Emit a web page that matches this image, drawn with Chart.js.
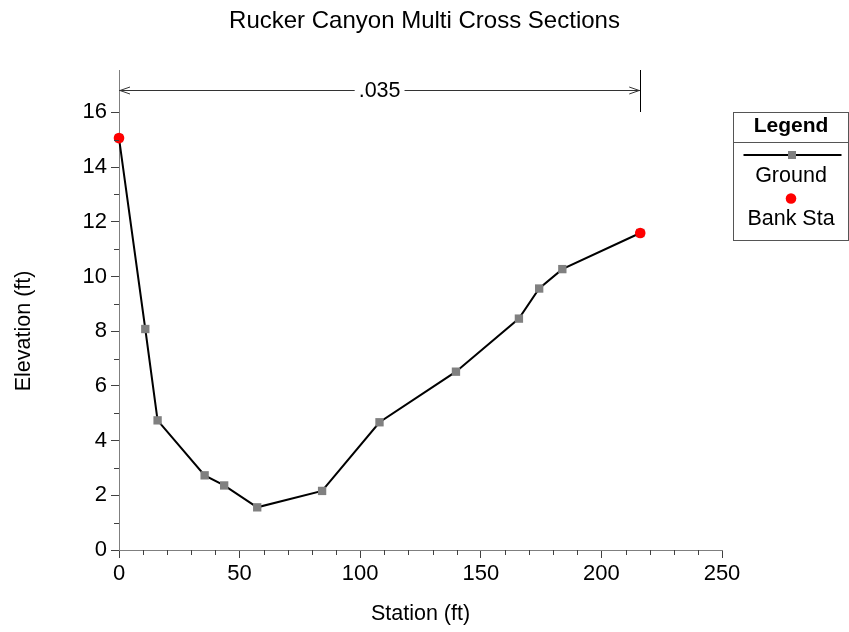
<!DOCTYPE html>
<html>
<head>
<meta charset="utf-8">
<title>Rucker Canyon Multi Cross Sections</title>
<script src="https://cdn.jsdelivr.net/npm/chart.js@4"></script>
<style>
  html, body { margin: 0; padding: 0; background: #ffffff; }
  canvas { display: block; }
</style>
</head>
<body>
<canvas id="xs" width="849" height="632"></canvas>
<script>
// Cross-section ground survey: station (ft) and elevation (ft)
const stations   = [0, 10.9, 16.0, 35.5, 43.6, 57.3, 84.2, 108.0, 139.7, 165.8, 174.2, 183.8, 216.1];
const elevations = [15.06, 8.08, 4.74, 2.73, 2.36, 1.56, 2.16, 4.67, 6.52, 8.46, 9.56, 10.27, 11.59];

// Left and right bank stations
const bankStations   = [0, 216.1];
const bankElevations = [15.06, 11.59];

// Manning's n reach across the section
const nFrom  = 0;
const nTo    = 216.1;
const nLabel = '.035';

// Axis ticks
const xTicks = [0, 50, 100, 150, 200, 250];
const yTicks = [0, 2, 4, 6, 8, 10, 12, 14, 16];
const xMax = 250;
const yMax = 17.55;

const FONT = '"Liberation Sans", Arial, Helvetica, sans-serif';

const groundPts = stations.map((s, i) => ({ x: s, y: elevations[i] }));
const bankPts = bankStations.map((s, i) => ({ x: s, y: bankElevations[i] }));

// Minor ticks, the n-value dimension line and the boxed legend
const decor = {
  id: 'decor',
  afterDraw(chart) {
    const { ctx, chartArea: a, scales: { x, y } } = chart;
    ctx.save();

    // minor tick marks
    ctx.strokeStyle = '#404040';
    ctx.lineWidth = 1;
    ctx.beginPath();
    for (let v = 10; v < xMax; v += 10) {
      if (v % 50 === 0) continue;
      const px = Math.round(x.getPixelForValue(v)) + 0.5;
      ctx.moveTo(px, a.bottom);
      ctx.lineTo(px, a.bottom + 5);
    }
    for (let v = 1; v < 16; v += 2) {
      const py = Math.round(y.getPixelForValue(v)) + 0.5;
      ctx.moveTo(a.left - 5, py);
      ctx.lineTo(a.left, py);
    }
    ctx.stroke();

    // n-value span with arrows
    const yN = Math.round(a.top + 20) + 0.5;
    const x0 = x.getPixelForValue(nFrom);
    const x1 = x.getPixelForValue(nTo);
    const xm = (x0 + x1) / 2;
    ctx.font = '21.5px ' + FONT;
    const tw = ctx.measureText(nLabel).width;
    ctx.strokeStyle = '#333333';
    ctx.lineWidth = 1;
    ctx.beginPath();
    ctx.moveTo(x0, yN); ctx.lineTo(xm - tw / 2 - 4, yN);
    ctx.moveTo(xm + tw / 2 + 4, yN); ctx.lineTo(x1, yN);
    ctx.moveTo(x0 + 11, yN - 3.5); ctx.lineTo(x0 + 1, yN); ctx.lineTo(x0 + 11, yN + 3.5);
    ctx.moveTo(x1 - 11, yN - 3.5); ctx.lineTo(x1 - 1, yN); ctx.lineTo(x1 - 11, yN + 3.5);
    ctx.stroke();
    ctx.strokeStyle = '#000000';
    ctx.beginPath();
    const xb = Math.round(x1) + 0.5;
    ctx.moveTo(xb, a.top);
    ctx.lineTo(xb, a.top + 42);
    ctx.stroke();
    ctx.fillStyle = '#000000';
    ctx.textAlign = 'center';
    ctx.textBaseline = 'middle';
    ctx.fillText(nLabel, xm, yN + 1);

    // legend box
    const L = 733.5, T = 112.5, W = 115, H = 128;
    const cx = L + W / 2;
    ctx.strokeStyle = '#555555';
    ctx.lineWidth = 1;
    ctx.strokeRect(L, T, W, H);
    ctx.beginPath();
    ctx.moveTo(L, T + 30); ctx.lineTo(L + W, T + 30);
    ctx.stroke();

    ctx.font = 'bold 21px ' + FONT;
    ctx.fillText('Legend', cx, T + 14);

    ctx.strokeStyle = '#000000';
    ctx.lineWidth = 2;
    ctx.beginPath();
    ctx.moveTo(L + 10, 155); ctx.lineTo(L + W - 7, 155);
    ctx.stroke();
    ctx.fillStyle = '#808080';
    ctx.fillRect(cx + 1 - 4, 155 - 4, 8, 8);

    ctx.fillStyle = '#000000';
    ctx.font = '21.5px ' + FONT;
    ctx.fillText('Ground', cx, 176);

    ctx.fillStyle = '#ff0000';
    ctx.beginPath();
    ctx.arc(cx, 198.5, 5.3, 0, Math.PI * 2);
    ctx.fill();

    ctx.fillStyle = '#000000';
    ctx.fillText('Bank Sta', cx, 219);

    ctx.restore();
  }
};

new Chart(document.getElementById('xs'), {
  type: 'scatter',
  data: {
    datasets: [
      {
        label: 'Bank Sta',
        data: bankPts,
        order: 0,
        showLine: false,
        pointStyle: 'circle',
        pointRadius: 5.3,
        pointBackgroundColor: '#ff0000',
        pointBorderColor: '#ff0000',
        pointBorderWidth: 0,
        clip: false
      },
      {
        label: 'Ground',
        data: groundPts,
        order: 1,
        showLine: true,
        borderColor: '#000000',
        borderWidth: 2,
        tension: 0,
        pointStyle: 'rect',
        pointRadius: 5.9,
        pointBackgroundColor: '#808080',
        pointBorderColor: '#808080',
        pointBorderWidth: 0,
        clip: false
      }
    ]
  },
  options: {
    responsive: false,
    devicePixelRatio: 1,
    animation: false,
    events: [],
    layout: { padding: 0 },
    plugins: {
      legend: { display: false },
      tooltip: { enabled: false },
      title: {
        display: true,
        text: 'Rucker Canyon Multi Cross Sections',
        color: '#000000',
        font: { family: FONT, size: 24, weight: 'normal', lineHeight: 1.2 },
        padding: { top: 6.5, bottom: 34.7 }
      }
    },
    scales: {
      x: {
        type: 'linear',
        min: 0,
        max: xMax,
        afterBuildTicks: (s) => { s.ticks = xTicks.map(v => ({ value: v })); },
        afterFit: (s) => { s.height = 82; },
        border: { display: true, color: '#7f7f7f', width: 1 },
        grid: { display: true, drawOnChartArea: false, drawTicks: true, tickLength: 8, tickColor: '#404040' },
        ticks: { color: '#000000', padding: 3, maxRotation: 0, font: { family: FONT, size: 22 } },
        title: {
          display: true,
          text: 'Station (ft)',
          color: '#000000',
          font: { family: FONT, size: 21.5 },
          padding: { top: 0, bottom: 5 }
        }
      },
      y: {
        type: 'linear',
        min: 0,
        max: yMax,
        afterBuildTicks: (s) => { s.ticks = yTicks.map(v => ({ value: v })); },
        afterFit: (s) => { s.width = 119; },
        border: { display: true, color: '#7f7f7f', width: 1 },
        grid: { display: true, drawOnChartArea: false, drawTicks: true, tickLength: 8, tickColor: '#404040' },
        ticks: { color: '#000000', padding: 4, font: { family: FONT, size: 22 } },
        title: {
          display: true,
          text: 'Elevation (ft)       ',
          color: '#000000',
          font: { family: FONT, size: 21.5 },
          padding: { top: 11, bottom: 0 }
        }
      },
      // empty gutter on the right that holds the legend box
      side: {
        type: 'linear',
        position: 'right',
        min: 0,
        max: 1,
        afterFit: (s) => { s.width = 127; },
        border: { display: false },
        grid: { display: false, drawTicks: false },
        ticks: { display: false }
      }
    }
  },
  plugins: [decor]
});
</script>
</body>
</html>
